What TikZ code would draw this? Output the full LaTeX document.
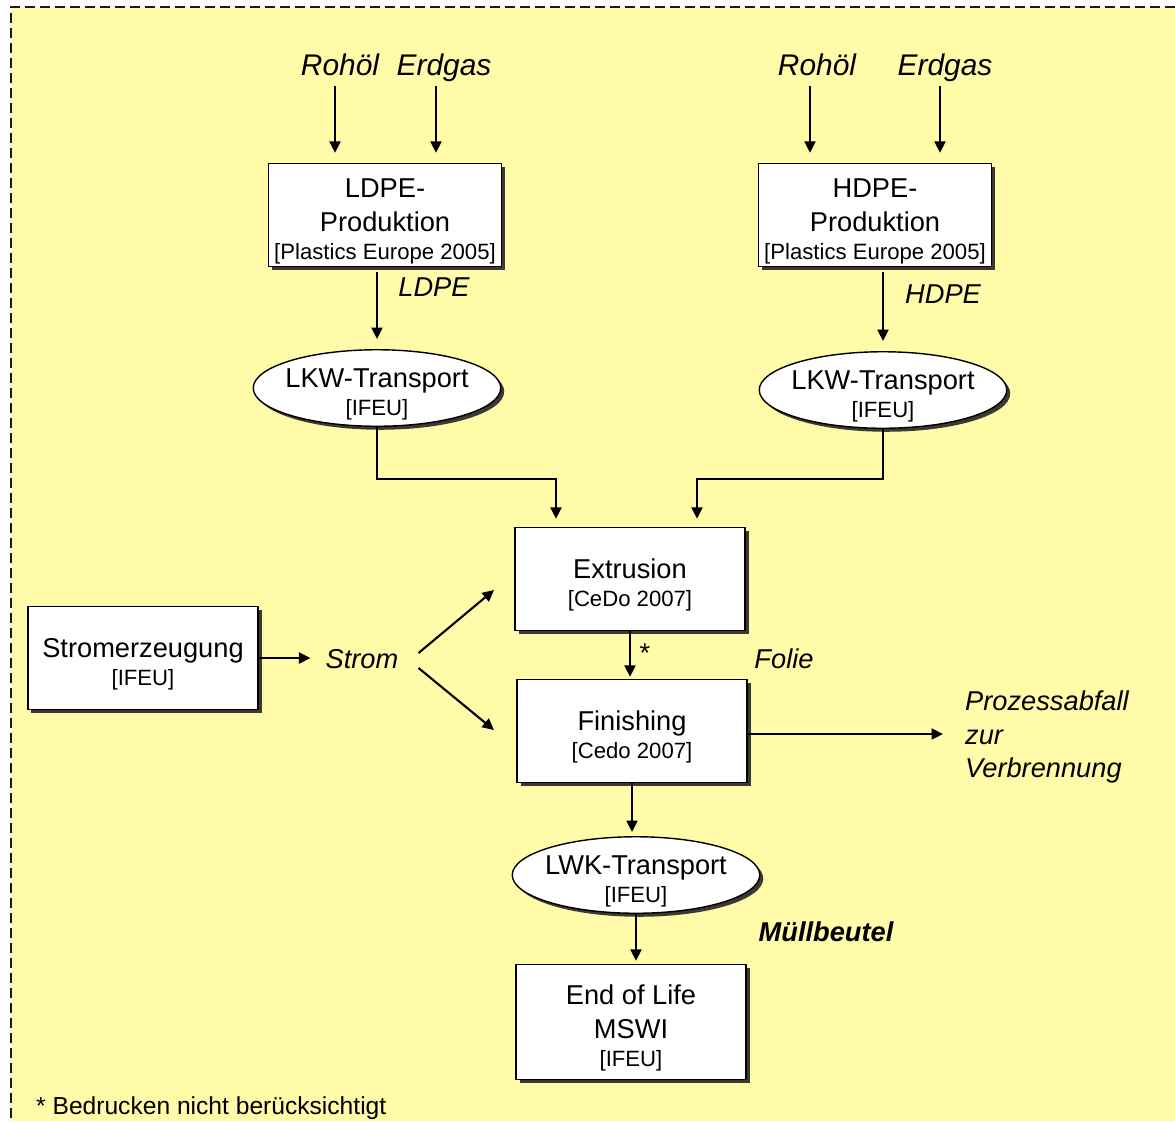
\documentclass[tikz,border=0pt]{standalone}
\usepackage{fontspec}
\setmainfont{Liberation Sans}
\usetikzlibrary{arrows.meta,shadows,shapes.geometric}
\definecolor{bgyellow}{RGB}{255,251,168}
\newcommand{\mainfnt}{\fontsize{15.5}{19}\selectfont}
\newcommand{\src}[1]{{\fontsize{12.6}{14}\selectfont #1}}
\newcommand{\tstrut}{\rule{0pt}{1.15em}}
\tikzset{
	boxshadow/.style={drop shadow={shadow xshift=0.7mm, shadow yshift=-0.7mm, opacity=0.9, fill=black!85}},
	procbox/.style={draw, line width=0.8pt, fill=white, minimum width=46mm, minimum height=20.6mm, inner ysep=0.5pt, align=center, font=\mainfnt, boxshadow},
	transell/.style={ellipse, draw, line width=0.8pt, fill=white, minimum width=49.5mm, minimum height=15.3mm, inner xsep=-2mm, inner ysep=-4pt, align=center, font=\mainfnt, boxshadow},
	flowlbl/.style={font=\mainfnt\itshape, text height=0.75em, text depth=0.25em},
	rawlbl/.style={flowlbl, font=\fontsize{17}{20}\selectfont\itshape},
	arr/.style={-{Triangle[length=2.3mm,width=2.2mm]}, line width=1.2pt},
}

\begin{document}
\begin{tikzpicture}[x=0.2mm, y=-0.2mm]
		%%%%% START %%%%%
		\useasboundingbox (0, 0) rectangle (1175, 1121);
		\fill[bgyellow] (11, 7) rectangle (1175, 1121);
		\draw[line width=1.3pt, dash pattern=on 2mm off 1mm, color=black!90] (1175, 7) -- (11, 7) -- (11, 1121);
		
		% raw materials
		\node[rawlbl] (rohoelA) at (340, 71) {Rohöl};
		\node[rawlbl] (erdgasA) at (444, 71) {Erdgas};
		\node[rawlbl] (rohoelB) at (817, 71) {Rohöl};
		\node[rawlbl] (erdgasB) at (945, 71) {Erdgas};
		
		% production
		\node[procbox] (ldpe) at (385, 215) {\tstrut LDPE-\\Produktion\\[-3pt]\src{[Plastics Europe 2005]}};
		\node[procbox] (hdpe) at (875, 215) {\tstrut HDPE-\\Produktion\\[-3pt]\src{[Plastics Europe 2005]}};
		
		\draw[arr, shorten >=2mm] ([xshift=-1mm]rohoelA.south) -- ([xshift=-1mm]rohoelA.south |- ldpe.north);
		\draw[arr, shorten >=2mm] ([xshift=-1.6mm]erdgasA.south) -- ([xshift=-1.6mm]erdgasA.south |- ldpe.north);
		\draw[arr, shorten >=2mm] ([xshift=-1.4mm]rohoelB.south) -- ([xshift=-1.4mm]rohoelB.south |- hdpe.north);
		\draw[arr, shorten >=2mm] ([xshift=-1mm]erdgasB.south) -- ([xshift=-1mm]erdgasB.south |- hdpe.north);
		
		% transport to extrusion
		\node[transell] (ldpetr) at (377, 388) {\tstrut LKW-Transport\\[-3pt]\src{[IFEU]}};
		\node[transell] (hdpetr) at (883, 390) {\tstrut LKW-Transport\\[-3pt]\src{[IFEU]}};
		\node[flowlbl] (ldpelbl) at (434, 292) {LDPE};
		\node[flowlbl] (hdpelbl) at (943, 299) {HDPE};
		
		\draw[arr, shorten <=1mm, shorten >=2mm] (ldpe.south -| ldpetr.north) -- (ldpetr.north);
		\draw[arr, shorten <=1mm, shorten >=2mm] (hdpe.south -| hdpetr.north) -- (hdpetr.north);
		
		% film production
		\node[procbox] (extr) at (630, 579) {\tstrut Extrusion\\[-3pt]\src{[CeDo 2007]}};
		\node[procbox] (fin) at (632, 731) {\tstrut Finishing\\[-3pt]\src{[Cedo 2007]}};
		\node[procbox] (stromerz) at (143, 658) {\tstrut Stromerzeugung\\[-3pt]\src{[IFEU]}};
		\node[flowlbl] (strom) at (362, 664) {Strom};
		\node[font=\mainfnt] (stern) at (645, 653) {*};
		\node[flowlbl] (folie) at (784, 664) {Folie};
		\coordinate (stromA) at (494, 590);
		\coordinate (stromB) at (494, 730);
		
		\draw[arr] (ldpetr.south) -- ++(0, 52) -| ([xshift=-14.8mm, yshift=1.6mm]extr.north);
		\draw[arr] (hdpetr.south) -- ++(0, 50) -| ([xshift=13.4mm, yshift=1.6mm]extr.north);
		\draw[arr, shorten >=0.4mm] (extr.south) -- (extr.south |- fin.north);
		\draw[arr, shorten >=1.8mm] (stromerz.east) -- (stromerz.east -| strom.west);
		\draw[arr] ([shift={(14, -11)}]strom.east) -- (stromA);
		\draw[arr] ([shift={(14, 4)}]strom.east) -- (stromB);
		
		% waste
		\node[font=\mainfnt\itshape, align=left, anchor=west] (abfall) at (959, 737) {Prozessabfall\\zur\\Verbrennung};
		\draw[arr, shorten >=3.2mm] ([yshift=-0.6mm]fin.east) -- ([yshift=-0.6mm]fin.east -| abfall.west);
		
		% end of life
		\node[transell] (lwktr) at (636, 875) {\tstrut LWK-Transport\\[-3pt]\src{[IFEU]}};
		\node[procbox, minimum height=23mm] (eol) at (631, 1022) {\tstrut End of Life\\MSWI\\[-3pt]\src{[IFEU]}};
		\node[flowlbl, font=\mainfnt\bfseries\itshape] (muell) at (826, 937) {Müllbeutel};
		
		\draw[arr, shorten >=0.8mm] (fin.south) -- (fin.south |- lwktr.north);
		\draw[arr, shorten >=0.6mm] (lwktr.south) -- (lwktr.south |- eol.north);
		
		\node[anchor=west, font=\fontsize{14}{17}\selectfont] (fussnote) at (30, 1108) {* Bedrucken nicht berücksichtigt};
		%%%%% END %%%%%
\end{tikzpicture}
\end{document}
